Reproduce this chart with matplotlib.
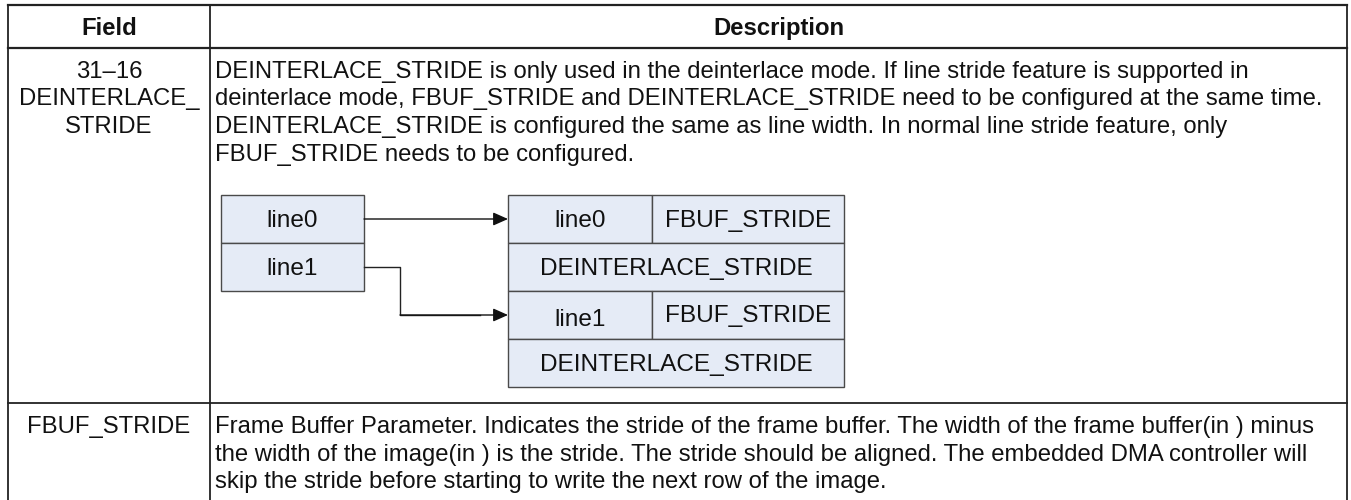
import matplotlib.pyplot as plt
from matplotlib.patches import Rectangle

plt.rcParams['font.family'] = ['Liberation Sans', 'DejaVu Sans']

headers = ["Field", "Description"]
field_1 = ["31\u201316", "DEINTERLACE_", "STRIDE"]
desc_1 = [
    "DEINTERLACE_STRIDE is only used in the deinterlace mode. If line stride feature is supported in",
    "deinterlace mode, FBUF_STRIDE and DEINTERLACE_STRIDE need to be configured at the same time.",
    "DEINTERLACE_STRIDE is configured the same as line width. In normal line stride feature, only",
    "FBUF_STRIDE needs to be configured.",
]
field_2 = ["FBUF_STRIDE"]
desc_2 = [
    "Frame Buffer Parameter. Indicates the stride of the frame buffer. The width of the frame buffer(in ) minus",
    "the width of the image(in ) is the stride. The stride should be aligned. The embedded DMA controller will",
    "skip the stride before starting to write the next row of the image.",
]
src_lines = ["line0", "line1"]
dst_short = ["line0", "line1"]
dst_tag = "FBUF_STRIDE"
dst_wide = "DEINTERLACE_STRIDE"

fs = 17.2
ink = "#111111"
fill = "#e5ebf6"
edge = "#4a4a4a"

fig = plt.figure(figsize=(13.51, 5.00), dpi=100)
ax = fig.add_axes([0, 0, 1, 1])
ax.set_xlim(0, 1351)
ax.set_ylim(500, 0)
ax.axis("off")

# table grid
L, M, R = 8, 210, 1347
top, head_bot, row_bot = 5, 48, 403
ax.plot([L, R], [top, top], color="#222", lw=1.6)
ax.plot([L, R], [head_bot, head_bot], color="#222", lw=1.6)
ax.plot([L, R], [row_bot, row_bot], color="#222", lw=1.3)
for x in (L, M):
    ax.plot([x, x], [top, 500], color="#222", lw=1.3)
ax.plot([R, R], [top, 500], color="#222", lw=1.3)

ax.text((L + M) / 2, 35, headers[0], ha="center", va="baseline", fontsize=fs, fontweight="bold", color=ink)
ax.text((M + R) / 2, 35, headers[1], ha="center", va="baseline", fontsize=fs, fontweight="bold", color=ink)

step = 27.5
for i, s in enumerate(field_1):
    ax.text((L + M) / 2, 78 + step * i, s, ha="center", va="baseline", fontsize=fs, color=ink)
for i, s in enumerate(desc_1):
    ax.text(215, 78 + step * i, s, ha="left", va="baseline", fontsize=fs, color=ink)
for i, s in enumerate(field_2):
    ax.text((L + M) / 2, 433 + step * i, s, ha="center", va="baseline", fontsize=fs, color=ink)
for i, s in enumerate(desc_2):
    ax.text(215, 433 + step * i, s, ha="left", va="baseline", fontsize=fs, color=ink)

# diagram
rh = 48
sx0, sx1, sy = 221, 364, 195
dfs = 17.6
for i, s in enumerate(src_lines):
    y = sy + rh * i
    ax.add_patch(Rectangle((sx0, y), sx1 - sx0, rh, facecolor=fill, edgecolor=edge, lw=1))
    ax.text((sx0 + sx1) / 2, y + rh / 2 + 8, s, ha="center", va="baseline", fontsize=dfs, color=ink)

dx0, dmid, dx1 = 508, 652, 844
for i, s in enumerate(dst_short):
    y = sy + 2 * rh * i
    ax.add_patch(Rectangle((dx0, y), dmid - dx0, rh, facecolor=fill, edgecolor=edge, lw=1))
    ax.add_patch(Rectangle((dmid, y), dx1 - dmid, rh, facecolor=fill, edgecolor=edge, lw=1))
    ax.add_patch(Rectangle((dx0, y + rh), dx1 - dx0, rh, facecolor=fill, edgecolor=edge, lw=1))
    ax.text((dx0 + dmid) / 2, y + rh / 2 + 8 + 3 * i, s, ha="center", va="baseline", fontsize=dfs, color=ink)
    ax.text((dmid + dx1) / 2, y + rh / 2 + 8 - i, dst_tag, ha="center", va="baseline", fontsize=dfs, color=ink)
    ax.text((dx0 + dx1) / 2, y + 1.5 * rh + 8, dst_wide, ha="center", va="baseline", fontsize=dfs, color=ink)

arrow = dict(arrowstyle="-|>,head_length=0.9,head_width=0.4", color="#111", lw=1, shrinkA=0, shrinkB=0)
y0 = sy + rh / 2
ax.annotate("", xy=(dx0, y0), xytext=(sx1, y0), arrowprops=arrow)
y1 = sy + 1.5 * rh
y2 = sy + 2.5 * rh
ax.plot([sx1, 400, 400, 480], [y1, y1, y2, y2], color="#222", lw=1)
ax.annotate("", xy=(dx0, y2), xytext=(400, y2), arrowprops=arrow)

fig.savefig("out.png", dpi=100)
